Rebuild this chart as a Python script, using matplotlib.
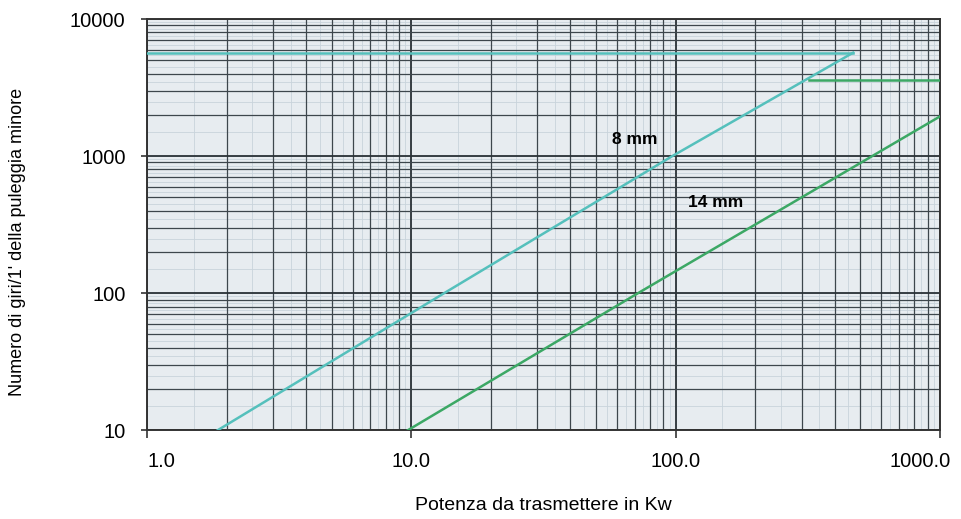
import matplotlib.pyplot as plt
from matplotlib.ticker import FixedLocator, LogLocator, NullFormatter
from matplotlib.transforms import ScaledTranslation

plt.rcParams['font.family'] = ['Liberation Sans', 'DejaVu Sans']

# 8 mm belt: diagonal limit and top speed limit
kw_8 = [1.85, 13.3, 97, 470]
rpm_8 = [10, 100, 1000, 5700]
kw_8_top = [1.0, 470]
rpm_8_top = [5700, 5700]

# 14 mm belt
kw_14 = [9.7, 72, 1000]
rpm_14 = [10, 100, 1950]
kw_14_top = [320, 1000]
rpm_14_top = [3600, 3600]

x_ticks = [1, 10, 100, 1000]
x_labels = ['1.0', '10.0', '100.0', '1000.0']
y_ticks = [10, 100, 1000, 10000]
y_labels = ['10', '100', '1000', '10000']

cyan = '#55c0bc'
green = '#3ca865'

fig = plt.figure(figsize=(9.61, 5.19), dpi=100)
ax = fig.add_axes([0.153, 0.171, 0.825, 0.792])
ax.set_facecolor('#e7ecf0')
ax.set_xscale('log')
ax.set_yscale('log')
ax.set_xlim(1, 1000)
ax.set_ylim(10, 10000)

# graph paper look: faint fine grid, then minor and major lines
fine = [d * k / 2 for d in (1, 10, 100) for k in range(2, 20)]
for v in fine:
    ax.axvline(v, color='#c9d3db', lw=0.6, zorder=0)
fine_y = [d * k / 2 for d in (10, 100, 1000) for k in range(2, 20)]
for v in fine_y:
    ax.axhline(v, color='#c9d3db', lw=0.6, zorder=0)

ax.xaxis.set_minor_locator(LogLocator(base=10, subs=range(2, 10)))
ax.yaxis.set_minor_locator(LogLocator(base=10, subs=range(2, 10)))
ax.xaxis.set_minor_formatter(NullFormatter())
ax.yaxis.set_minor_formatter(NullFormatter())
ax.grid(which='minor', color='#3d464c', lw=0.9, zorder=1)
ax.grid(which='major', color='#2a3136', lw=1.3, zorder=1)
ax.tick_params(which='minor', length=0)

ax.plot(kw_8, rpm_8, color=cyan, lw=1.8, zorder=3)
ax.plot(kw_8_top, rpm_8_top, color=cyan, lw=1.8, zorder=3)
ax.plot(kw_14, rpm_14, color=green, lw=1.8, zorder=3)
ax.plot(kw_14_top, rpm_14_top, color=green, lw=1.8, zorder=3)

ax.text(70, 1320, '8 mm', fontsize=12.5, fontweight='bold', ha='center', va='center', zorder=4)
ax.text(142, 460, '14 mm', fontsize=12.5, fontweight='bold', ha='center', va='center', zorder=4)

ax.xaxis.set_major_locator(FixedLocator(x_ticks))
ax.yaxis.set_major_locator(FixedLocator(y_ticks))
ax.set_xticklabels(x_labels)
ax.set_yticklabels(y_labels)
ax.tick_params(axis='x', which='major', length=6, width=1.2, pad=10, labelsize=14.5, color='#333')
ax.tick_params(axis='y', which='major', length=4.5, width=1.2, pad=11, labelsize=14.5, color='#333')
labels = ax.get_xticklabels()
labels[0].set_transform(labels[0].get_transform() + ScaledTranslation(0.14, 0, fig.dpi_scale_trans))
labels[-1].set_transform(labels[-1].get_transform() + ScaledTranslation(-0.2, 0, fig.dpi_scale_trans))

for s in ax.spines.values():
    s.set_color('#333')
    s.set_linewidth(1.4)

ax.set_xlabel('Potenza da trasmettere in Kw', fontsize=14)
ax.set_ylabel("Numero di giri/1' della puleggia minore", fontsize=13)
ax.xaxis.set_label_coords(0.5, -0.163)
ax.yaxis.set_label_coords(-0.153, 0.459)

fig.savefig('out.png', dpi=100)
